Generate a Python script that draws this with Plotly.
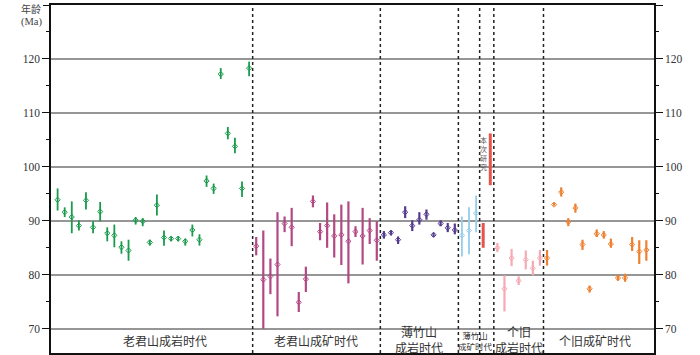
import plotly.graph_objects as go

# ---------------- data ----------------
group_names = ["老君山成岩时代", "老君山成矿时代", "薄竹山成岩时代", "薄竹山成矿时代",
               "本次研究", "个旧成岩时代", "个旧成矿时代"]

green_age = [93.9, 91.6, 90.7, 89.1, 93.8, 88.8, 91.7, 87.7, 87.3, 85.1, 84.5, 90.1, 89.9, 86.0,
             92.9, 86.9, 86.7, 86.7, 86.2, 88.3, 86.5, 97.4, 96.0, 117.2, 106.2, 103.8, 96.0, 118.3]
green_hi = [96.0, 92.5, 93.6, 90.1, 95.3, 89.9, 93.5, 88.8, 89.3, 86.2, 86.5, 90.7, 90.5, 86.5,
            94.9, 88.2, 87.1, 87.1, 86.7, 89.3, 87.5, 98.4, 96.9, 118.3, 107.4, 105.4, 97.3, 119.5]
green_lo = [91.9, 90.7, 87.7, 88.2, 92.1, 87.7, 89.9, 86.2, 85.1, 83.9, 82.6, 89.3, 89.0, 85.4,
            91.0, 85.4, 86.2, 86.2, 85.4, 87.1, 85.4, 96.3, 95.0, 116.3, 105.1, 102.5, 94.4, 116.8]

magenta_age = [85.3, 79.1, 79.7, 81.9, 89.5, 88.8, 74.9, 79.2, 93.6, 88.0, 89.1, 87.2, 87.4, 86.2,
               88.0, 87.2, 88.2, 86.4]
magenta_hi = [87.0, 88.2, 83.0, 91.6, 90.8, 92.4, 76.8, 81.5, 94.7, 89.6, 93.4, 91.2, 93.0, 93.6,
              89.0, 92.4, 90.5, 89.9]
magenta_lo = [83.6, 70.0, 76.4, 72.3, 87.9, 85.3, 73.1, 76.8, 92.5, 86.4, 85.0, 83.2, 81.8, 78.4,
              87.0, 81.9, 85.7, 82.6]

purple_age = [87.4, 87.8, 86.5, 91.6, 89.1, 90.2, 91.2, 87.4, 89.5, 88.7, 88.3]
purple_hi = [88.1, 88.2, 87.1, 92.7, 90.1, 91.6, 92.1, 87.8, 90.1, 89.6, 89.5]
purple_lo = [86.7, 87.3, 85.7, 90.5, 88.1, 89.3, 90.2, 87.0, 89.0, 87.9, 87.5]

blue_age = [87.3, 88.2, 91.4]
blue_hi = [90.8, 92.5, 94.7]
blue_lo = [83.4, 83.8, 87.9]

red_age = [87.4, 101.4]
red_hi = [89.6, 106.2]
red_lo = [85.0, 96.6]

pink_age = [85.0, 77.4, 83.1, 78.9, 82.8, 81.2, 83.1]
pink_hi = [85.9, 79.9, 84.8, 79.7, 84.5, 82.6, 84.6]
pink_lo = [84.2, 73.2, 81.6, 78.1, 81.0, 79.9, 81.7]

orange_age = [83.1, 93.0, 95.3, 89.8, 92.4, 85.6, 77.4, 87.6, 87.4, 85.7, 79.4, 79.4, 85.6, 84.3, 84.6]
orange_hi = [84.6, 93.3, 96.2, 90.5, 93.2, 86.5, 78.0, 88.4, 88.1, 86.7, 80.0, 80.2, 87.0, 86.4, 86.4]
orange_lo = [81.7, 92.8, 94.5, 89.0, 91.5, 84.6, 76.7, 87.0, 86.7, 85.0, 78.9, 78.7, 84.4, 82.0, 82.6]

y_ticks = [70, 80, 90, 100, 110, 120, 130]
y_minor = [75, 85, 95, 105, 115, 125]

# ---------------- styling ----------------
series = [
    (green_age, green_hi, green_lo, "rgb(25,155,75)", 1.8, True),
    (magenta_age, magenta_hi, magenta_lo, "rgb(178,72,132)", 2.2, True),
    (purple_age, purple_hi, purple_lo, "rgb(85,60,145)", 2.2, True),
    (blue_age, blue_hi, blue_lo, "rgb(150,205,235)", 1.8, True),
    (red_age, red_hi, red_lo, "rgb(230,85,75)", 3, False),
    (pink_age, pink_hi, pink_lo, "rgb(245,170,180)", 2.2, True),
    (orange_age, orange_hi, orange_lo, "rgb(238,128,48)", 2.2, True),
]

fig = go.Figure()
start = 1
bounds = []
for age, hi, lo, col, th, showm in series:
    xs = list(range(start, start + len(age)))
    fig.add_trace(go.Scatter(
        x=xs, y=age, mode="markers",
        marker=dict(symbol="diamond-open", size=4 if showm else 0.1, color=col,
                    line=dict(width=1, color=col), opacity=1 if showm else 0),
        error_y=dict(type="data", symmetric=False,
                     array=[h - a for h, a in zip(hi, age)],
                     arrayminus=[a - l for a, l in zip(age, lo)],
                     width=0, thickness=th, color=col),
        showlegend=False, hoverinfo="skip"))
    start += len(age)
    bounds.append(start - 0.5)

n_total = start - 1
xmin, xmax = 0.07, n_total + 1.08
yr = [65.5, 130]

# invisible traces for the extra axes
for ya in ("y2", "y3"):
    fig.add_trace(go.Scatter(x=[xmin], y=[100], yaxis=ya, mode="markers",
                             marker=dict(opacity=0), showlegend=False, hoverinfo="skip"))

# dotted separators (between groups)
for b in bounds[:-1]:
    fig.add_shape(type="line", xref="x", yref="paper", x0=b, x1=b, y0=0, y1=1,
                  line=dict(color="#222", width=1.5, dash="dot"))

tick_font = dict(family="Liberation Serif", size=11.5, color="#333")
cjk = "Noto Sans CJK SC"
minor_cfg = dict(tickmode="array", tickvals=y_minor, ticks="outside",
                 ticklen=3.5, tickwidth=1.2, tickcolor="#111", showgrid=False)

fig.update_layout(
    width=700, height=355,
    margin=dict(l=51, r=46, t=5, b=2),
    paper_bgcolor="white", plot_bgcolor="white",
    xaxis=dict(range=[xmin, xmax], showticklabels=False, ticks="", showgrid=False,
               zeroline=False, showline=True, mirror=True, linecolor="#111", linewidth=1.5),
    yaxis=dict(range=yr, tickmode="array", tickvals=y_ticks[:-1],
               ticks="outside", ticklen=7, tickwidth=1.3, tickcolor="#111",
               showline=True, linecolor="#111", linewidth=1.5,
               showgrid=True, gridcolor="rgb(150,150,150)", gridwidth=1.5,
               zeroline=False, tickfont=tick_font, minor=minor_cfg),
    yaxis2=dict(range=yr, overlaying="y", side="right", tickmode="array",
                tickvals=y_ticks, ticks="outside", ticklen=7, tickwidth=1.3, tickcolor="#111",
                showline=True, linecolor="#111", linewidth=1.5, showgrid=False,
                zeroline=False, tickfont=tick_font, minor=minor_cfg),
    yaxis3=dict(range=yr, overlaying="y", side="left", tickmode="array",
                tickvals=y_ticks[-1:], ticks="outside", ticklen=7, tickwidth=1.3,
                tickcolor="#111", showticklabels=False, showline=False, showgrid=False,
                zeroline=False),
)

def px_to_x(p):
    return 1 + (p - 57.3) / 7.096

def px_to_y(p):
    return 70 - (p - 328.7) / 5.37

lab_font = dict(family=cjk, size=12, color="#333")
small_font = dict(family=cjk, size=8.5, color="#333")
annots = [
    ("老君山成岩时代", 165, 340, lab_font),
    ("老君山成矿时代", 315.5, 340, lab_font),
    ("薄竹山<br>成岩时代", 418.5, 339, lab_font),
    ("薄竹山<br>成矿时代", 475.5, 340.5, small_font),
    ("个旧<br>成岩时代", 518.5, 339, lab_font),
    ("个旧成矿时代", 595, 340, lab_font),
]
for txt, xp, yp, f in annots:
    fig.add_annotation(text=txt, x=px_to_x(xp), y=px_to_y(yp), xref="x", yref="y",
                       showarrow=False, font=f, xanchor="center", yanchor="middle",
                       borderpad=0)

# "本次研究" vertical label
fig.add_annotation(text="本<br>次<br>研<br>究", x=px_to_x(483.5), y=px_to_y(154),
                   xref="x", yref="y", showarrow=False, borderpad=0,
                   font=dict(family=cjk, size=7, color="#555"),
                   xanchor="center", yanchor="middle")

# axis title
fig.add_annotation(text="年龄", xref="paper", yref="paper", x=(31 - 51) / 603,
                   y=353 / 348, showarrow=False, borderpad=0,
                   font=dict(family=cjk, size=10, color="#444"),
                   xanchor="center", yanchor="top")
fig.add_annotation(text="(Ma)", xref="paper", yref="paper", x=(31 - 51) / 603,
                   y=(353 - 15.5) / 348, showarrow=False, borderpad=0,
                   font=dict(family="Liberation Serif", size=10.5, color="#444"),
                   xanchor="center", yanchor="top")

fig.write_html("out.html", config={"displayModeBar": False},
               post_script="document.body.style.margin='0';document.body.style.overflow='hidden';")
